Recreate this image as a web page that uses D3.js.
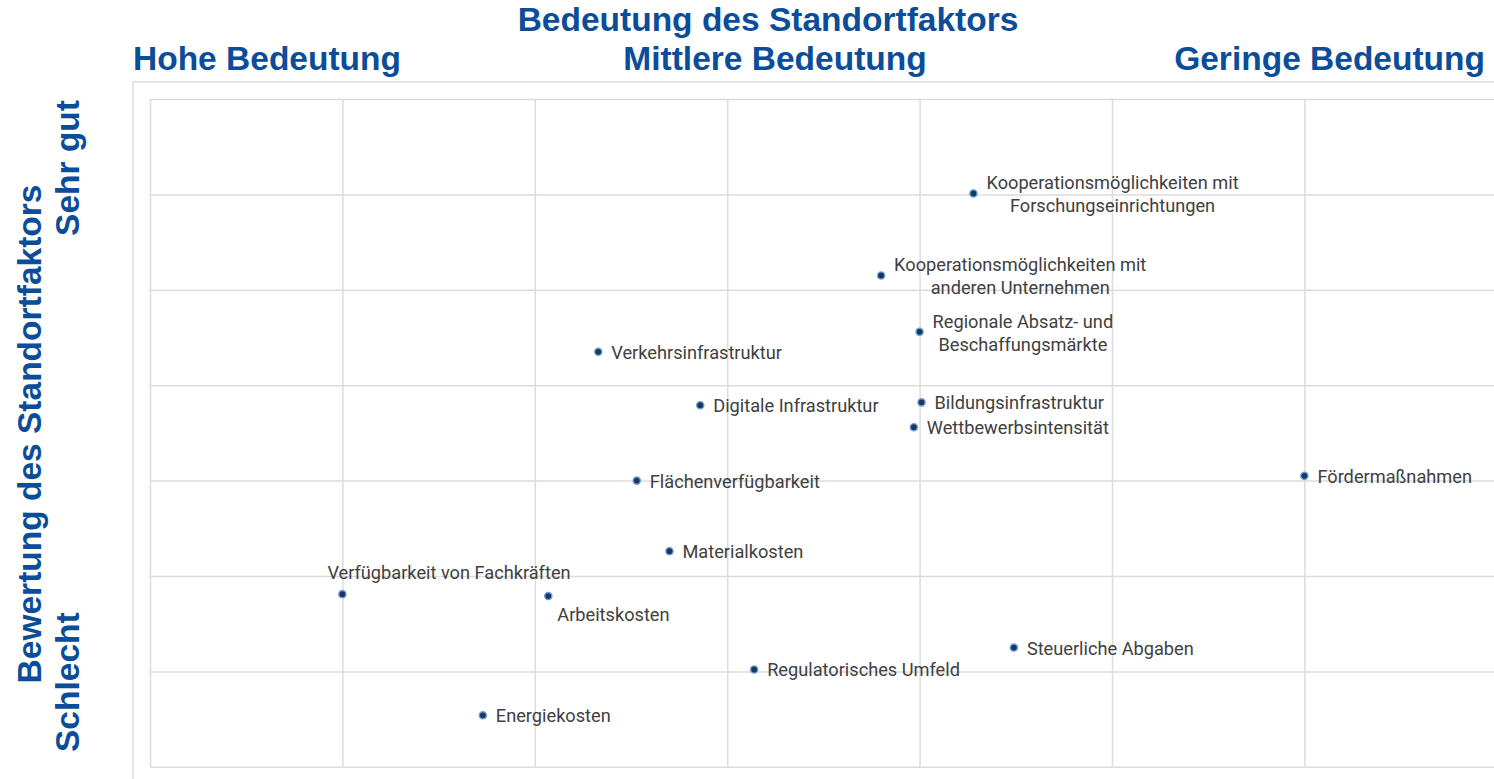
<!DOCTYPE html>
<html>
<head>
<meta charset="utf-8">
<script src="https://cdn.jsdelivr.net/npm/d3@7"></script>
<style>
  body { margin: 0; background: #fff; overflow: hidden; }
  text { font-family: Roboto, "DejaVu Sans", sans-serif; }
  .title { font-family: "Liberation Sans", Arial, sans-serif; font-weight: bold; }
</style>
</head>
<body>
<div id="vis"></div>
<script>
const layout = {
  width: 1494,
  height: 779,
  plotLeft: 150,
  plotTop: 99,
  cell: 192.4,
  rowH: 95.4,
  cols: 7,
  rows: 7
};

// standort factors: importance (x, 0 = high .. 7 = low) and rating (y, 0 = bad .. 7 = very good)
const factorNames = [
  "Kooperationsmöglichkeiten mit|Forschungseinrichtungen",
  "Kooperationsmöglichkeiten mit|anderen Unternehmen",
  "Regionale Absatz- und|Beschaffungsmärkte",
  "Verkehrsinfrastruktur",
  "Digitale Infrastruktur",
  "Bildungsinfrastruktur",
  "Wettbewerbsintensität",
  "Fördermaßnahmen",
  "Flächenverfügbarkeit",
  "Materialkosten",
  "Verfügbarkeit von Fachkräften",
  "Arbeitskosten",
  "Steuerliche Abgaben",
  "Regulatorisches Umfeld",
  "Energiekosten"
];
const importance = [4.28, 3.80, 4.00, 2.33, 2.86, 4.01, 3.97, 6.00, 2.53, 2.70, 1.00, 2.07, 4.49, 3.14, 1.73];
const rating =     [6.01, 5.15, 4.56, 4.35, 3.79, 3.82, 3.56, 3.05, 3.00, 2.26, 1.81, 1.79, 1.25, 1.02, 0.54];
const labelSide =  ["right", "right", "right", "right", "right", "right", "right", "right", "right", "right", "above", "below", "right", "right", "right"];

const topTitle = "Bedeutung des Standortfaktors";
const xCategories = ["Hohe Bedeutung", "Mittlere Bedeutung", "Geringe Bedeutung"];
const sideTitle = "Bewertung des Standortfaktors";
const yCategories = ["Sehr gut", "Schlecht"];

const blue = "#0b4d98";
const gridColor = "#dcdcdc";
const titleSize = 33.5;

let svg = d3.select("#vis").append("svg")
  .attr("width", layout.width)
  .attr("height", layout.height)
  .attr("viewBox", [0, 0, layout.width, layout.height].join(" "));

let plotW = layout.cols * layout.cell;
let plotH = layout.rows * layout.rowH;

let xScale = d3.scaleLinear()
  .domain([0, layout.cols])
  .range([layout.plotLeft, layout.plotLeft + plotW]);
let yScale = d3.scaleLinear()
  .domain([0, layout.rows])
  .range([layout.plotTop + plotH, layout.plotTop]);

// outer frame
svg.append("rect")
  .attr("x", 133).attr("y", 82)
  .attr("width", 1500).attr("height", 800)
  .attr("fill", "none")
  .attr("stroke", gridColor)
  .attr("stroke-width", 1.5);

// grid
let xGrid = svg.append("g")
  .attr("transform", `translate(0,${layout.plotTop + plotH})`)
  .call(d3.axisBottom(xScale).tickValues(d3.range(0, layout.cols + 1)).tickSize(-plotH).tickFormat(""));
let yGrid = svg.append("g")
  .attr("transform", `translate(${layout.plotLeft},0)`)
  .call(d3.axisLeft(yScale).tickValues(d3.range(0, layout.rows + 1)).tickSize(-plotW).tickFormat(""));
[xGrid, yGrid].forEach(g => {
  g.select(".domain").remove();
  g.selectAll("line").attr("stroke", gridColor).attr("stroke-width", 1.5);
});

// titles
svg.append("text")
  .attr("class", "title")
  .attr("x", 768).attr("y", 31)
  .attr("text-anchor", "middle")
  .attr("font-size", titleSize)
  .attr("fill", blue)
  .text(topTitle);
let xCatX = [133, 775, 1485];
let xCatAnchor = ["start", "middle", "end"];
xCategories.forEach((c, i) => {
  svg.append("text")
    .attr("class", "title")
    .attr("x", xCatX[i]).attr("y", 70)
    .attr("text-anchor", xCatAnchor[i])
    .attr("font-size", titleSize)
    .attr("fill", blue)
    .text(c);
});

svg.append("text")
  .attr("class", "title")
  .attr("transform", "translate(41,434) rotate(-90)")
  .attr("text-anchor", "middle")
  .attr("font-size", titleSize)
  .attr("fill", blue)
  .text(sideTitle);
svg.append("text")
  .attr("class", "title")
  .attr("transform", "translate(79,100) rotate(-90)")
  .attr("text-anchor", "end")
  .attr("font-size", titleSize)
  .attr("fill", blue)
  .text(yCategories[0]);
svg.append("text")
  .attr("class", "title")
  .attr("transform", "translate(79,752) rotate(-90)")
  .attr("text-anchor", "start")
  .attr("font-size", titleSize)
  .attr("fill", blue)
  .text(yCategories[1]);

// points
let points = factorNames.map((n, i) => ({ name: n, x: importance[i], y: rating[i], side: labelSide[i] }));

let markGroup = svg.append("g").attr("id", "marks");
markGroup.selectAll("circle").data(points).join("circle")
  .attr("cx", d => xScale(d.x))
  .attr("cy", d => yScale(d.y))
  .attr("r", 3.6)
  .attr("fill", "#17395f")
  .attr("stroke", "#6f9fd8")
  .attr("stroke-width", 1.4);

// labels
let labelGroup = svg.append("g").attr("id", "labels");
points.forEach(d => {
  let px = xScale(d.x), py = yScale(d.y);
  let lines = d.name.split("|");
  let t = labelGroup.append("text")
    .attr("font-size", 18.2)
    .attr("fill", "#404040");
  if (d.side === "above") {
    t.attr("x", px - 15).attr("y", py - 15).text(lines[0]);
  } else if (d.side === "below") {
    t.attr("x", px + 9).attr("y", py + 25).text(lines[0]);
  } else if (lines.length === 1) {
    t.attr("x", px + 13).attr("y", py + 7).text(lines[0]);
  } else {
    let spans = t.selectAll("tspan").data(lines).join("tspan").text(l => l);
    let widths = [];
    spans.each(function () { widths.push(this.getComputedTextLength()); });
    let cx = px + 13 + d3.max(widths) / 2;
    spans.attr("x", cx)
      .attr("text-anchor", "middle")
      .attr("y", (l, i) => py - 4 + i * 23);
  }
});
</script>
</body>
</html>
